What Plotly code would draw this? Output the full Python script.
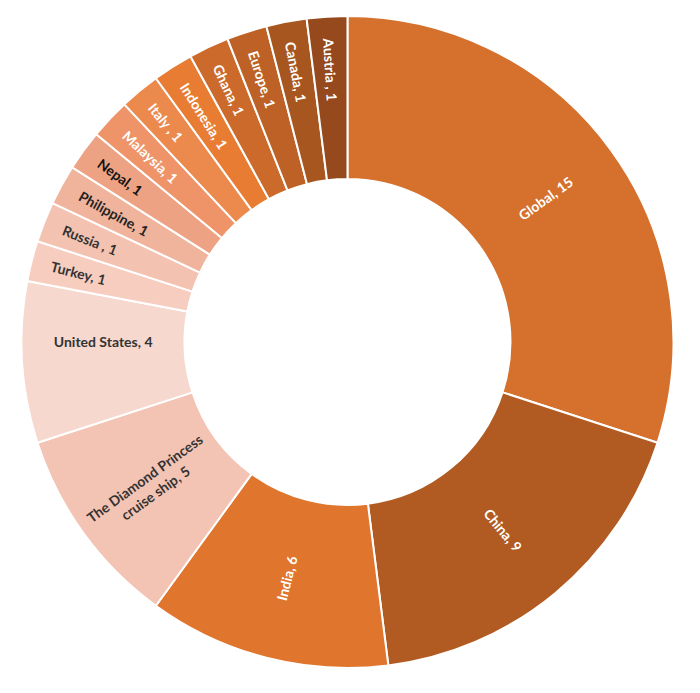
import math
import plotly.graph_objects as go

labels = ["Global", "China", "India", "The Diamond Princess<br>cruise ship", "United States",
          "Turkey", "Russia ", "Philippine", "Nepal", "Malaysia", "Italy ", "Indonesia",
          "Ghana", "Europe", "Canada", "Austria "]
values = [15, 9, 6, 5, 4, 1, 1, 1, 1, 1, 1, 1, 1, 1, 1, 1]
colors = ["#D5702D", "#B15B22", "#E0752D", "#F3C4B4", "#F7D8CE",
          "#F6CDBF", "#F3C2B0", "#F0B39B", "#EDA283", "#EE9468", "#EC8A4E", "#E87C32",
          "#CB6A2A", "#BE6126", "#A8561F", "#96491C"]
text_colors = ["white", "white", "white", "#333333", "#333333",
               "#333333", "#333333", "#222222", "#111111", "white", "white", "white",
               "white", "white", "white", "white"]

W, H = 700, 693
HOLE = 0.5
FS = 14
dom_x = [0.0307, 0.9621]
dom_y = [0.0361, 0.9769]

# Labels drawn by the pie; the largest slice's label is drawn as a rotated
# annotation (Plotly would otherwise lay it horizontally where it crosses 3 o'clock)
texts = [f"{l}, {v}" for l, v in zip(labels, values)]
texts[0] = ""

fig = go.Figure(go.Pie(
    labels=labels,
    values=values,
    text=texts,
    textinfo="text",
    hole=HOLE,
    sort=False,
    direction="clockwise",
    rotation=0,
    marker=dict(colors=colors, line=dict(color="white", width=2)),
    textposition="inside",
    insidetextorientation="radial",
    textfont=dict(family="Lato", size=FS, color=text_colors, weight="bold"),
    showlegend=False,
    hoverinfo="label+value",
    domain=dict(x=dom_x, y=dom_y),
))

# Rotated label for the first slice, placed at its mid-angle from the data
total = sum(values)
mid_deg = values[0] / 2 / total * 360.0
r_px = min((dom_x[1] - dom_x[0]) * W, (dom_y[1] - dom_y[0]) * H) / 2
r_txt = r_px * (1 + HOLE) / 2
cx = (dom_x[0] + dom_x[1]) / 2
cy = (dom_y[0] + dom_y[1]) / 2
ax = cx + r_txt * math.sin(math.radians(mid_deg)) / W
ay = cy + r_txt * math.cos(math.radians(mid_deg)) / H
fig.add_annotation(
    x=ax, y=ay, xref="paper", yref="paper",
    text=f"{labels[0]}, {values[0]}", showarrow=False,
    textangle=-(90 - mid_deg),
    font=dict(family="Lato", size=FS, color="white", weight="bold"),
    xanchor="center", yanchor="middle",
)

fig.update_layout(
    width=W, height=H,
    margin=dict(l=0, r=0, t=0, b=0),
    paper_bgcolor="white",
    uniformtext=dict(minsize=FS, mode="show"),
    font=dict(family="Lato"),
)
fig.write_html("out.html", config={"displayModeBar": False},
               post_script="document.body.style.margin='0';")
